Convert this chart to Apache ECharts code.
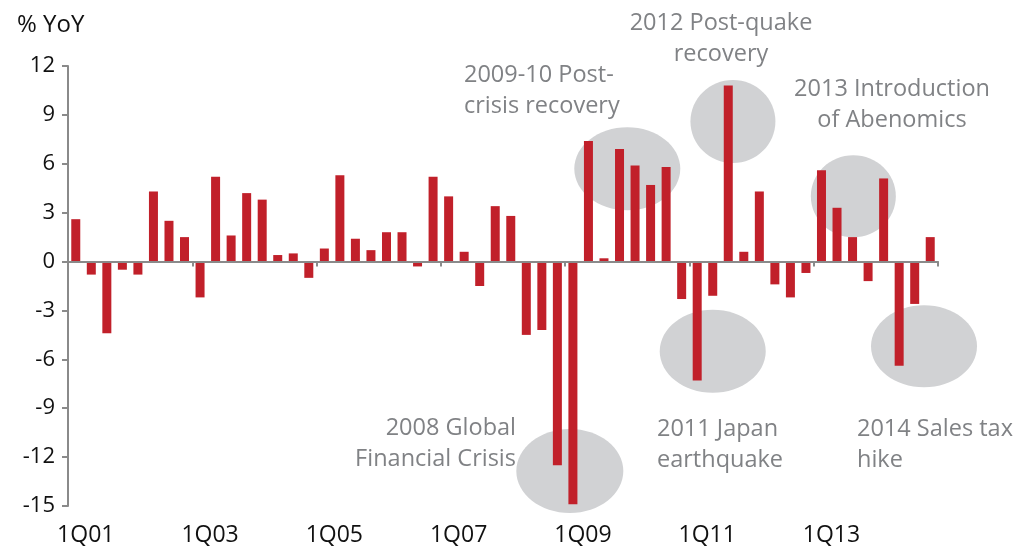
<!DOCTYPE html>
<html>
<head>
<meta charset="utf-8">
<script src="https://cdn.jsdelivr.net/npm/echarts@6/dist/echarts.min.js"></script>
<style>
  html, body { margin: 0; padding: 0; background: #fff; }
  #main { width: 1027px; height: 548px; }
</style>
</head>
<body>
<div id="main"></div>
<script>
// quarters 1Q01 .. 4Q14
var quarters = [
  '1Q01','2Q01','3Q01','4Q01','1Q02','2Q02','3Q02','4Q02',
  '1Q03','2Q03','3Q03','4Q03','1Q04','2Q04','3Q04','4Q04',
  '1Q05','2Q05','3Q05','4Q05','1Q06','2Q06','3Q06','4Q06',
  '1Q07','2Q07','3Q07','4Q07','1Q08','2Q08','3Q08','4Q08',
  '1Q09','2Q09','3Q09','4Q09','1Q10','2Q10','3Q10','4Q10',
  '1Q11','2Q11','3Q11','4Q11','1Q12','2Q12','3Q12','4Q12',
  '1Q13','2Q13','3Q13','4Q13','1Q14','2Q14','3Q14','4Q14'
];

// % YoY
var growth = [
  2.6, -0.8, -4.4, -0.5, -0.8, 4.3, 2.5, 1.5,
  -2.2, 5.2, 1.6, 4.2, 3.8, 0.4, 0.5, -1.0,
  0.8, 5.3, 1.4, 0.7, 1.8, 1.8, -0.3, 5.2,
  4.0, 0.6, -1.5, 3.4, 2.8, -4.5, -4.2, -12.5,
  -14.9, 7.4, 0.2, 6.9, 5.9, 4.7, 5.8, -2.3,
  -7.3, -2.1, 10.8, 0.6, 4.3, -1.4, -2.2, -0.7,
  5.6, 3.3, 1.5, -1.2, 5.1, -6.4, -2.6, 1.5
];

var yMin = -15, yMax = 12, yStep = 3;

// grey highlight bubbles: centre in (category index, value), radii in px
var bubbleCat = [35.5, 42.3, 50.05, 31.8, 41.0, 54.6];
var bubbleVal = [5.7, 8.6, 4.0, -12.85, -5.5, -5.2];
var bubbleRx  = [53, 42.5, 42.5, 53.5, 53, 53];
var bubbleRy  = [41.5, 41.5, 41, 42, 41.5, 41];

var notes = [
  { text: '2009-10 Post-\ncrisis recovery', x: 464, y: 60, align: 'left' },
  { text: '2012 Post-quake\nrecovery', x: 721, y: 8, align: 'center' },
  { text: '2013 Introduction\nof Abenomics', x: 892, y: 74, align: 'center' },
  { text: '2008 Global\nFinancial Crisis', x: 516, y: 413, align: 'right' },
  { text: '2011 Japan\nearthquake', x: 657, y: 414, align: 'left' },
  { text: '2014 Sales tax\nhike', x: 857, y: 414, align: 'left' }
];

var FONT = '"Open Sans", "Noto Sans", sans-serif';
var axisGrey = '#8a8a8a';

var myChart = echarts.init(document.getElementById('main'));

var option = {
  animation: false,
  title: {
    text: '% YoY',
    left: 12,
    top: 8,
    textStyle: { fontFamily: FONT, fontSize: 24, fontWeight: 'normal', color: '#111' }
  },
  grid: { left: 68, right: 89, top: 66, bottom: 42, containLabel: false },
  xAxis: [
    {
      type: 'category',
      data: quarters,
      position: 'bottom',
      z: 3,
      axisLine: { onZero: true, lineStyle: { color: axisGrey, width: 2 } },
      axisTick: { show: true, interval: 7, length: 5, lineStyle: { color: axisGrey, width: 2 } },
      axisLabel: { show: false },
      splitLine: { show: false }
    },
    {
      type: 'category',
      data: quarters,
      position: 'bottom',
      axisLine: { show: false, onZero: false },
      axisTick: { show: false },
      splitLine: { show: false },
      axisLabel: {
        interval: 7,
        margin: 18,
        padding: [0, 0, 0, 20],
        fontFamily: FONT,
        fontSize: 23,
        color: '#111'
      }
    }
  ],
  yAxis: {
    type: 'value',
    min: yMin,
    max: yMax,
    interval: yStep,
    axisLine: { show: true, lineStyle: { color: axisGrey, width: 2 } },
    axisTick: { show: true, length: 6, lineStyle: { color: axisGrey, width: 2 } },
    splitLine: { show: false },
    axisLabel: {
      margin: 13,
      padding: [0, 0, 19, 0],
      fontFamily: FONT,
      fontSize: 22,
      color: '#111'
    }
  },
  series: [
    {
      type: 'bar',
      xAxisIndex: 0,
      data: growth,
      barWidth: 9,
      itemStyle: { color: '#c1202a' },
      z: 2
    }
  ]
};

myChart.setOption(option);

// place the grey bubbles through the axes' own scales
var p0 = myChart.convertToPixel({ xAxisIndex: 0, yAxisIndex: 0 }, [0, 0]);
var p1 = myChart.convertToPixel({ xAxisIndex: 0, yAxisIndex: 0 }, [1, 1]);
var stepX = p1[0] - p0[0];
var stepY = p1[1] - p0[1];

var graphics = [];
for (var i = 0; i < bubbleCat.length; i++) {
  graphics.push({
    type: 'ellipse',
    z: 0,
    shape: {
      cx: p0[0] + bubbleCat[i] * stepX,
      cy: p0[1] + bubbleVal[i] * stepY,
      rx: bubbleRx[i],
      ry: bubbleRy[i]
    },
    style: { fill: '#d1d2d4' }
  });
}
notes.forEach(function (n) {
  graphics.push({
    type: 'text',
    z: 10,
    x: n.x,
    y: n.y,
    style: {
      text: n.text,
      font: '23.5px ' + FONT,
      fill: '#808285',
      align: n.align,
      verticalAlign: 'top',
      lineHeight: 31
    }
  });
});

myChart.setOption({ graphic: graphics });
</script>
</body>
</html>
